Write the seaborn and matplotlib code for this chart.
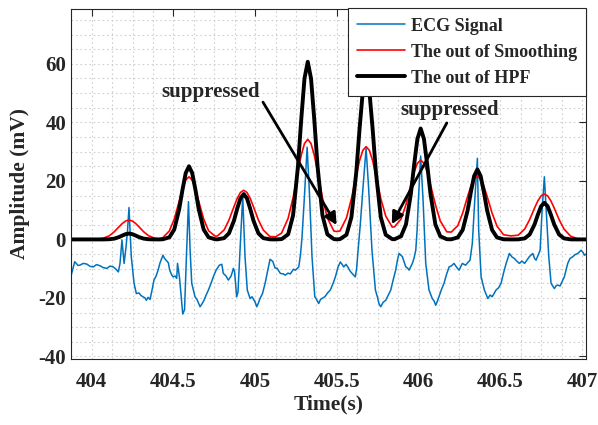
import matplotlib
matplotlib.use("Agg")
import matplotlib.pyplot as plt
import seaborn as sns
from matplotlib.ticker import FixedLocator, MultipleLocator

# ----------------------------
# Estilo general
sns.set_style("white")
plt.rcParams['font.family'] = ['Liberation Serif', 'DejaVu Serif']
plt.rcParams['font.weight'] = 'bold'
plt.rcParams['axes.unicode_minus'] = False

# ----------------------------
# Datos
# Señal ECG (tiempo en s, amplitud en mV)
ecg_t = [403.873, 403.896, 403.916, 403.928, 403.947, 403.969, 403.990, 404.010, 404.029, 404.051,
         404.069, 404.092, 404.112, 404.132, 404.149, 404.163, 404.173, 404.185, 404.198, 404.210,
         404.219, 404.228, 404.242, 404.259, 404.273, 404.289, 404.302, 404.314, 404.326, 404.334,
         404.345, 404.357, 404.369, 404.381, 404.394, 404.406, 404.418, 404.436, 404.446, 404.457,
         404.469, 404.477, 404.490, 404.498, 404.510, 404.520, 404.525, 404.537, 404.557, 404.568,
         404.580, 404.592, 404.602, 404.612, 404.632, 404.644, 404.663, 404.675, 404.687, 404.700,
         404.714, 404.730, 404.744, 404.761, 404.781, 404.796, 404.805, 404.822, 404.836, 404.853,
         404.867, 404.874, 404.887, 404.895, 404.908, 404.924, 404.938, 404.952, 404.969, 404.981,
         404.999, 405.010, 405.018, 405.030, 405.045, 405.061, 405.079, 405.091, 405.108, 405.122,
         405.134, 405.154, 405.173, 405.185, 405.201, 405.215, 405.234, 405.246, 405.267, 405.278,
         405.287, 405.302, 405.318, 405.333, 405.348, 405.365, 405.376, 405.389, 405.400, 405.409,
         405.428, 405.443, 405.460, 405.477, 405.491, 405.507, 405.521, 405.532, 405.542, 405.556,
         405.569, 405.581, 405.593, 405.613, 405.621, 405.630, 405.644, 405.665, 405.679, 405.694,
         405.715, 405.736, 405.748, 405.758, 405.769, 405.783, 405.799, 405.813, 405.830, 405.844,
         405.860, 405.871, 405.881, 405.901, 405.922, 405.933, 405.942, 405.962, 405.972, 405.983,
         405.991, 405.999, 406.013, 406.028, 406.044, 406.064, 406.084, 406.095, 406.105, 406.116,
         406.125, 406.141, 406.156, 406.171, 406.187, 406.202, 406.217, 406.233, 406.248, 406.268,
         406.288, 406.303, 406.315, 406.329, 406.344, 406.360, 406.368, 406.383, 406.403, 406.424,
         406.438, 406.450, 406.462, 406.474, 406.490, 406.505, 406.520, 406.536, 406.556, 406.572,
         406.586, 406.603, 406.617, 406.633, 406.649, 406.664, 406.678, 406.699, 406.710, 406.719,
         406.731, 406.744, 406.756, 406.770, 406.783, 406.797, 406.811, 406.831, 406.842, 406.852,
         406.866, 406.878, 406.892, 406.913, 406.927, 406.944, 406.958, 406.974, 406.995, 407.007,
         407.015, 407.025]
ecg_v = [-12.5, -7.6, -8.9, -8.8, -8.2, -8.4, -9.2, -9.4, -8.6, -9.0,
         -9.6, -9.9, -9.1, -9.4, -10.2, -11.1, -8.2, -0.2, -8.2, -2.5,
         3.0, 10.9, -5.9, -15.0, -18.5, -18.3, -19.2, -19.6, -20.0, -20.8,
         -19.8, -20.5, -17.3, -13.9, -12.5, -10.5, -8.0, -5.4, -6.5, -7.2,
         -8.0, -10.5, -12.2, -12.8, -12.5, -13.3, -8.2, -13.0, -25.5, -24.0,
         -5.0, 12.9, -3.7, -15.0, -19.6, -20.5, -23.0, -22.0, -20.8, -19.0,
         -17.3, -15.0, -12.8, -10.5, -8.8, -8.5, -11.6, -12.5, -13.9, -12.5,
         -9.9, -11.0, -19.6, -18.0, -3.0, 14.6, -5.9, -17.3, -20.2, -19.6,
         -21.3, -23.0, -22.0, -20.2, -18.5, -15.0, -10.0, -6.8, -7.5, -9.8,
         -9.8, -11.6, -11.8, -12.2, -11.5, -11.8, -10.2, -10.5, -9.4, -5.0,
         0.9, 15.0, 31.5, 15.0, -5.9, -19.6, -20.5, -21.9, -20.5, -20.2,
         -19.5, -18.3, -17.3, -15.0, -12.8, -9.5, -7.7, -8.5, -9.4, -8.5,
         -9.6, -10.8, -11.6, -12.8, -10.0, -3.7, 5.5, 21.4, 31.1, 18.0,
         -3.7, -17.3, -19.6, -22.0, -23.0, -21.5, -20.8, -19.2, -17.3, -14.0,
         -10.5, -7.0, -4.8, -5.9, -9.4, -9.8, -10.5, -8.2, -6.5, -3.7,
         3.0, 13.4, 28.5, 13.0, -8.2, -17.3, -20.2, -21.0, -22.5, -21.0,
         -19.6, -17.0, -15.0, -12.0, -9.4, -9.0, -8.2, -9.5, -10.5, -8.2,
         -8.8, -7.8, -7.1, -1.4, 13.4, 27.7, 3.2, -12.8, -17.3, -20.2,
         -19.0, -19.6, -18.5, -17.3, -16.5, -15.0, -11.5, -8.2, -4.8, -6.0,
         -6.5, -7.5, -8.2, -7.4, -8.2, -7.0, -5.9, -4.8, -6.5, -7.1,
         -5.5, -3.7, 10.0, 21.4, 8.0, -5.9, -15.0, -16.8, -15.8, -15.6,
         -15.9, -14.5, -12.8, -8.2, -6.5, -5.9, -5.2, -4.8, -3.7, -4.5,
         -5.4, -5.0]

# Salidas del suavizado y del filtro paso alto (HPF)
out_t = [403.870, 404.028, 404.068, 404.108, 404.138, 404.168, 404.188, 404.208, 404.228, 404.248,
         404.268, 404.288, 404.318, 404.348, 404.388, 404.412, 404.435, 404.475, 404.505, 404.535,
         404.555, 404.575, 404.595, 404.615, 404.635, 404.655, 404.685, 404.715, 404.755, 404.770,
         404.810, 404.840, 404.870, 404.890, 404.910, 404.930, 404.950, 404.970, 404.990, 405.020,
         405.050, 405.090, 405.126, 405.162, 405.202, 405.232, 405.262, 405.282, 405.302, 405.322,
         405.342, 405.362, 405.382, 405.412, 405.442, 405.482, 405.501, 405.519, 405.559, 405.589,
         405.619, 405.639, 405.659, 405.679, 405.699, 405.719, 405.739, 405.769, 405.799, 405.839,
         405.853, 405.893, 405.923, 405.953, 405.973, 405.993, 406.013, 406.033, 406.053, 406.073,
         406.103, 406.133, 406.173, 406.200, 406.240, 406.270, 406.300, 406.320, 406.340, 406.360,
         406.380, 406.400, 406.420, 406.450, 406.480, 406.520, 406.565, 406.610, 406.650, 406.680,
         406.710, 406.730, 406.750, 406.770, 406.790, 406.810, 406.830, 406.860, 406.890, 406.930,
         406.970, 407.030]
smooth_v = [0, 0.07, 0.35, 1.26, 2.61, 4.37, 5.49, 6.30, 6.60, 6.30,
            5.49, 4.37, 2.61, 1.26, 0.35, 0.15, 0.61, 2.89, 6.96, 12.99,
            17.12, 20.24, 21.40, 20.24, 17.12, 12.99, 6.96, 2.97, 1.11, 1.20,
            3.24, 6.64, 11.12, 13.98, 16.04, 16.80, 16.04, 13.98, 11.12, 6.64,
            3.21, 0.99, 0.90, 2.18, 7.22, 14.23, 23.19, 28.76, 32.76, 34.20,
            32.76, 28.76, 23.19, 14.23, 7.32, 2.85, 2.70, 2.90, 7.37, 13.88,
            21.97, 26.91, 30.43, 31.70, 30.43, 26.91, 21.97, 13.94, 8.00, 4.20,
            4.30, 7.00, 11.87, 18.78, 23.01, 26.02, 27.10, 26.02, 23.01, 18.78,
            11.87, 6.31, 2.60, 2.50, 4.70, 8.99, 14.64, 18.17, 20.69, 21.60,
            20.69, 18.17, 14.64, 8.99, 4.56, 1.60, 1.20, 1.45, 3.57, 6.79,
            10.74, 13.16, 14.88, 15.50, 14.88, 13.16, 10.74, 6.79, 3.57, 1.14,
            0.26, 0]
hpf_v = [0, 0, 0, 0.06, 0.27, 0.82, 1.35, 1.81, 2.00, 1.81,
         1.35, 0.82, 0.27, 0.06, 0, 0, 0.05, 0.72, 3.38, 10.28,
         16.85, 22.65, 25.00, 22.65, 16.85, 10.28, 3.38, 0.72, 0.05, 0.03,
         0.44, 2.09, 6.37, 10.45, 14.04, 15.50, 14.04, 10.45, 6.37, 2.09,
         0.44, 0.03, 0, 0.11, 1.74, 8.19, 24.95, 40.91, 54.99, 60.70,
         54.99, 40.91, 24.95, 8.19, 1.74, 0.11, 0, 0.10, 1.60, 7.56,
         23.02, 37.74, 50.74, 56.00, 50.74, 37.74, 23.02, 7.56, 1.60, 0.10,
         0.07, 1.08, 5.12, 15.58, 25.54, 34.34, 37.90, 34.34, 25.54, 15.58,
         5.12, 1.08, 0.07, 0.04, 0.68, 3.23, 9.82, 16.11, 21.65, 23.90,
         21.65, 16.11, 9.82, 3.23, 0.68, 0.04, 0, 0.02, 0.36, 1.69,
         5.14, 8.43, 11.33, 12.50, 11.33, 8.43, 5.14, 1.69, 0.36, 0.02,
         0, 0]

# Marcas de los ejes
x_ticks = [404, 404.5, 405, 405.5, 406, 406.5, 407]
x_tick_labels = ['404', '404.5', '405', '405.5', '406', '406.5', '407']
y_ticks = [-40, -20, 0, 20, 40, 60]

# ----------------------------
# Figura
fig = plt.figure(figsize=(5.98, 4.25), dpi=100)
ax = fig.add_axes([0.1187, 0.155, 0.8613, 0.825])

sns.lineplot(x=ecg_t, y=ecg_v, ax=ax, color='#0072BD', linewidth=1.1,
             sort=False, estimator=None, label='ECG Signal')
sns.lineplot(x=out_t, y=smooth_v, ax=ax, color='red', linewidth=1.2,
             sort=False, estimator=None, label='The out of Smoothing')
sns.lineplot(x=out_t, y=hpf_v, ax=ax, color='black', linewidth=2.8,
             sort=False, estimator=None, label='The out of HPF')

# Límites y marcas
ax.set_xlim(403.873, 407.025)
ax.set_ylim(-40.9, 78.9)
ax.xaxis.set_major_locator(FixedLocator(x_ticks))
ax.set_xticklabels(x_tick_labels)
ax.yaxis.set_major_locator(FixedLocator(y_ticks))
ax.xaxis.set_minor_locator(MultipleLocator(0.125))
ax.yaxis.set_minor_locator(MultipleLocator(5))
ax.tick_params(which='major', direction='in', top=True, right=True, length=5,
               width=0.8, color='#262626', labelsize=15, labelcolor='#262626')
ax.tick_params(axis='x', which='major', pad=9)
ax.tick_params(which='minor', length=0)
ax.grid(which='both', linestyle=(0, (1.5, 2.5)), color='#cfcfcf', linewidth=0.8)
for s in ax.spines.values():
    s.set_color('#262626')
    s.set_linewidth(0.8)

ax.set_xlabel('Time(s)', fontsize=15.5, fontweight='bold', labelpad=2)
ax.set_ylabel('Amplitude (mV)', fontsize=15.5, fontweight='bold', labelpad=6)

# Anotaciones
arrow = dict(arrowstyle='-|>', color='black', lw=2, mutation_scale=18, shrinkA=0, shrinkB=0)
ax.annotate('', xy=(405.499, 4.9), xytext=(405.048, 46.9), arrowprops=arrow)
ax.annotate('', xy=(405.836, 5.2), xytext=(406.173, 39.8), arrowprops=arrow)
ax.text(404.727, 50.3, 'suppressed', fontsize=15, fontweight='bold', ha='center', va='center')
ax.text(406.19, 44.2, 'suppressed', fontsize=15, fontweight='bold', ha='center', va='center')

# Leyenda
leg = ax.legend(loc='upper right', borderaxespad=0, fontsize=13, frameon=True,
                fancybox=False, framealpha=1, edgecolor='#262626',
                handlelength=2.7, handletextpad=0.3, labelspacing=0.5,
                borderpad=0.5)
leg.get_frame().set_linewidth(0.8)
leg.set_zorder(10)

fig.savefig('out.png', dpi=100)
